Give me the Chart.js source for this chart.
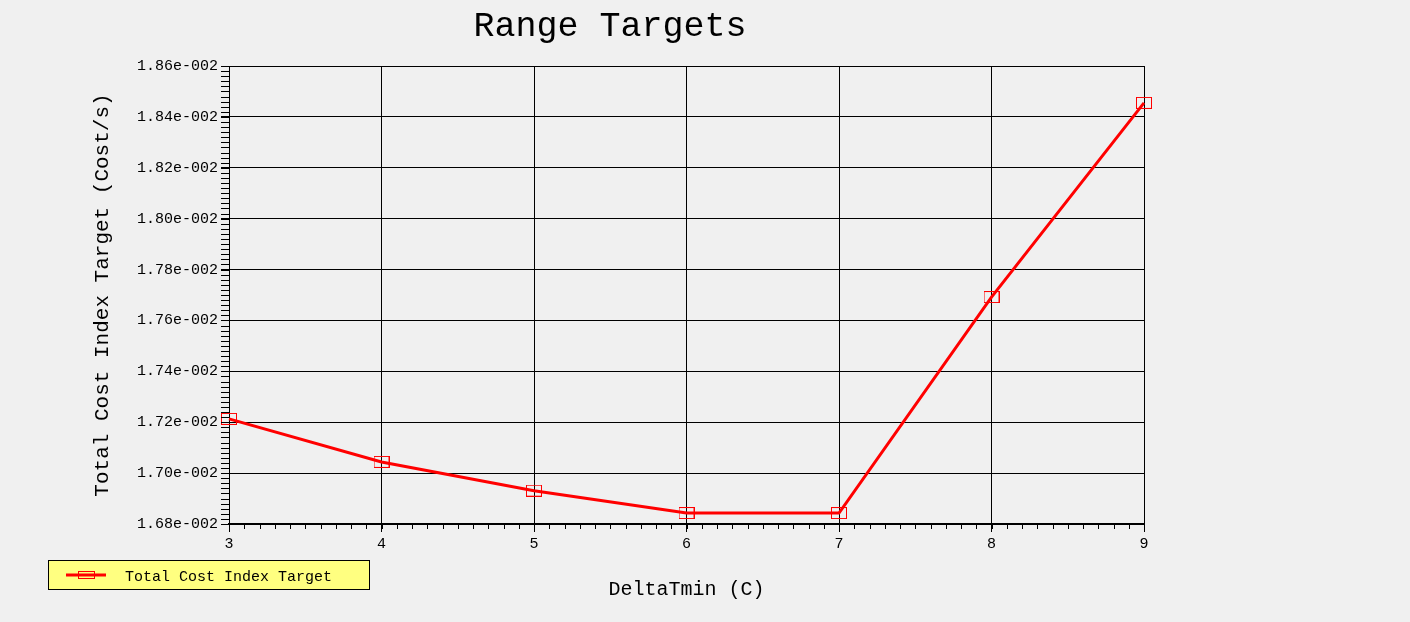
<!DOCTYPE html>
<html>
<head>
<meta charset="utf-8">
<script src="https://cdn.jsdelivr.net/npm/chart.js@4.4.1/dist/chart.umd.min.js"></script>
<style>
  html, body { margin: 0; padding: 0; background: #f0f0f0; }
  #wrap { width: 1410px; height: 622px; }
</style>
</head>
<body>
<div id="wrap"><canvas id="myChart" width="1410" height="622"></canvas></div>
<script>
// data
const deltaTmin = [3, 4, 5, 6, 7, 8, 9];
const costTarget = [0.017213, 0.017044, 0.016931, 0.016843, 0.016843, 0.017692, 0.018455];
const seriesName = "Total Cost Index Target";
const yMin = 0.0168, yMax = 0.0186, yStep = 0.0002;
const xMin = 3, xMax = 9;

const FONT = "'Liberation Mono', 'DejaVu Sans Mono', monospace";

// open red box marker
const marker = document.createElement("canvas");
marker.width = 16;
marker.height = 12;
const mctx = marker.getContext("2d");
mctx.strokeStyle = "#ff0000";
mctx.lineWidth = 1;
mctx.strokeRect(0.5, 0.5, 15, 11);

const fmt = (v) => (v * 100).toFixed(2) + "e-002";

const minorTicks = {
  id: "minorTicks",
  afterDraw(chart) {
    const ctx = chart.ctx;
    const x = chart.scales.x;
    const y = chart.scales.y;
    const area = chart.chartArea;
    ctx.save();
    ctx.strokeStyle = "#000";
    ctx.lineWidth = 1;
    ctx.beginPath();
    let n = Math.round((yMax - yMin) / 0.00002);
    for (let i = 0; i <= n; i++) {
      let py = Math.round(y.getPixelForValue(yMin + i * 0.00002)) + 0.5;
      ctx.moveTo(area.left - 8, py);
      ctx.lineTo(area.left, py);
    }
    n = Math.round((xMax - xMin) / 0.1);
    for (let i = 0; i <= n; i++) {
      let px = Math.round(x.getPixelForValue(xMin + i * 0.1)) + 0.5;
      ctx.moveTo(px, area.bottom);
      ctx.lineTo(px, area.bottom + 5);
    }
    ctx.stroke();
    ctx.restore();
  },
};

const boxLegend = {
  id: "boxLegend",
  afterDraw(chart) {
    const ctx = chart.ctx;
    const ds = chart.data.datasets[0];
    ctx.save();
    ctx.fillStyle = "#ffff80";
    ctx.fillRect(48, 560, 321, 29);
    ctx.strokeStyle = "#000";
    ctx.lineWidth = 1;
    ctx.strokeRect(48.5, 560.5, 321, 29);
    ctx.strokeStyle = ds.borderColor;
    ctx.lineWidth = 3;
    ctx.beginPath();
    ctx.moveTo(66, 575);
    ctx.lineTo(106, 575);
    ctx.stroke();
    ctx.lineWidth = 1;
    ctx.strokeRect(78.5, 571.5, 16, 7);
    ctx.fillStyle = "#000";
    ctx.font = "15px " + FONT;
    ctx.textBaseline = "middle";
    ctx.fillText(ds.label, 125, 577);
    ctx.restore();
  },
};

const points = deltaTmin.map((d, i) => ({ x: d, y: costTarget[i] }));

new Chart("myChart", {
  type: "line",
  data: {
    datasets: [
      {
        label: seriesName,
        data: points,
        borderColor: "#ff0000",
        borderWidth: 3,
        tension: 0,
        pointStyle: marker,
        pointBorderColor: "#ff0000",
        clip: false,
      },
    ],
  },
  options: {
    responsive: false,
    animation: false,
    layout: { padding: { left: 76, right: 266, top: 0, bottom: 0 } },
    plugins: {
      legend: { display: false },
      tooltip: { enabled: false },
      title: {
        display: true,
        text: "Range Targets",
        color: "#000",
        font: { family: FONT, size: 35, weight: "normal", lineHeight: 1.2 },
        padding: { top: 6, bottom: 18 },
      },
    },
    scales: {
      x: {
        type: "linear",
        min: xMin,
        max: xMax,
        afterFit: (s) => { s.height = 98; },
        ticks: {
          stepSize: 1,
          color: "#000",
          padding: 3,
          font: { family: FONT, size: 15 },
        },
        grid: { color: "#000", lineWidth: 1, tickLength: 8 },
        border: { color: "#000", width: 2 },
        title: {
          display: true,
          text: "DeltaTmin (C)",
          color: "#000",
          font: { family: FONT, size: 20, lineHeight: 1.2 },
          padding: { top: 0, bottom: 20 },
        },
      },
      y: {
        min: yMin,
        max: yMax,
        afterFit: (s) => { s.width = 153; },
        ticks: {
          stepSize: yStep,
          color: "#000",
          padding: 3,
          font: { family: FONT, size: 15 },
          callback: (v) => fmt(v),
        },
        grid: { color: "#000", lineWidth: 1, tickLength: 8 },
        border: { color: "#000", width: 1 },
        title: {
          display: true,
          text: "Total Cost Index Target (Cost/s)",
          color: "#000",
          font: { family: FONT, size: 21, lineHeight: 1.2 },
          padding: { top: 14, bottom: 0 },
        },
      },
    },
  },
  plugins: [minorTicks, boxLegend],
});
</script>
</body>
</html>
